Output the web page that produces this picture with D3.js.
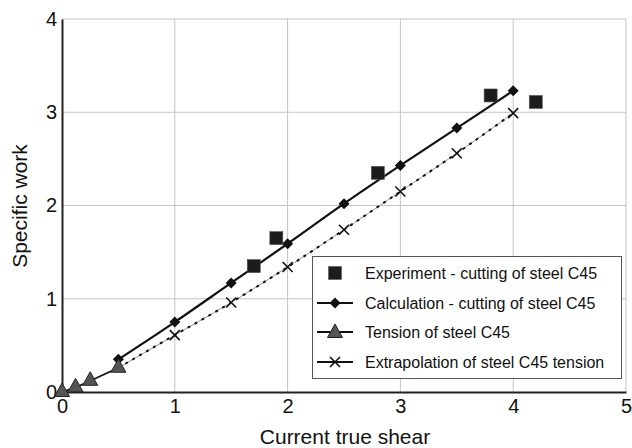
<!DOCTYPE html>
<html>
<head>
<meta charset="utf-8">
<script src="https://cdn.jsdelivr.net/npm/d3@7"></script>
<style>
  html, body { margin: 0; padding: 0; background: #fff; }
  svg { display: block; font-family: "Liberation Sans", Arial, sans-serif; }
</style>
</head>
<body>
<svg id="chart" width="632" height="448"></svg>
<script>
// Specific work vs. current true shear for steel C45
const xTicks = [0, 1, 2, 3, 4, 5];
const yTicks = [0, 1, 2, 3, 4];

const experimentX = [1.7, 1.9, 2.8, 3.8, 4.2];
const experimentY = [1.35, 1.65, 2.35, 3.18, 3.11];

const calculationX = [0.5, 1, 1.5, 2, 2.5, 3, 3.5, 4];
const calculationY = [0.35, 0.75, 1.17, 1.59, 2.02, 2.43, 2.83, 3.23];

const tensionX = [0, 0.12, 0.25, 0.5];
const tensionY = [0, 0.05, 0.12, 0.26];

const extrapolationX = [0.5, 1, 1.5, 2, 2.5, 3, 3.5, 4];
const extrapolationY = [0.26, 0.61, 0.96, 1.34, 1.74, 2.15, 2.56, 2.99];

const legendLabels = [
  "Experiment - cutting of steel C45",
  "Calculation - cutting of steel C45",
  "Tension of steel C45",
  "Extrapolation of steel C45 tension"
];

const zip = (xs, ys) => xs.map((x, i) => [x, ys[i]]);

const svg = d3.select("#chart");
const x = d3.scaleLinear().domain([0, 5]).range([62, 626]);
const y = d3.scaleLinear().domain([0, 4]).range([392, 19]);

// grid
const grid = svg.append("g").attr("stroke", "#c4c4c4").attr("stroke-width", 1);
grid.selectAll("line.v").data(xTicks.slice(1)).join("line")
  .attr("x1", d => x(d)).attr("x2", d => x(d))
  .attr("y1", y(0)).attr("y2", y(4));
grid.selectAll("line.h").data(yTicks.slice(1)).join("line")
  .attr("x1", x(0)).attr("x2", x(5))
  .attr("y1", d => y(d)).attr("y2", d => y(d));

// axes
const xAxis = svg.append("g").attr("transform", `translate(0,${y(0)})`)
  .call(d3.axisBottom(x).tickValues(xTicks).tickFormat(d3.format("d")).tickSize(0).tickPadding(7));
const yAxis = svg.append("g").attr("transform", `translate(${x(0)},0)`)
  .call(d3.axisLeft(y).tickValues(yTicks).tickFormat(d3.format("d")).tickSize(0).tickPadding(5));
[xAxis, yAxis].forEach(a => {
  a.select(".domain").attr("stroke", "#222").attr("stroke-width", 2);
  a.selectAll("text").attr("font-size", 20).attr("fill", "#111")
    .attr("font-family", "Liberation Sans, Arial, sans-serif");
});

// axis titles
svg.append("text").attr("x", 345).attr("y", 444)
  .attr("text-anchor", "middle").attr("font-size", 21).attr("fill", "#111")
  .text("Current true shear");
svg.append("text").attr("transform", `translate(27,206) rotate(-90)`)
  .attr("text-anchor", "middle").attr("font-size", 21).attr("fill", "#111")
  .text("Specific work");

// series lines
const line = d3.line().x(d => x(d[0])).y(d => y(d[1])).curve(d3.curveMonotoneX);
const extrapolation = zip(extrapolationX, extrapolationY);
svg.append("path").attr("d", line(extrapolation))
  .attr("fill", "none").attr("stroke", "#9a9a9a").attr("stroke-width", 1);
svg.append("path").attr("d", line(extrapolation))
  .attr("fill", "none").attr("stroke", "#111").attr("stroke-width", 2)
  .attr("stroke-dasharray", "3,5");
svg.append("path").attr("d", line(zip(tensionX, tensionY)))
  .attr("fill", "none").attr("stroke", "#111").attr("stroke-width", 1.8);
svg.append("path").attr("d", line(zip(calculationX, calculationY)))
  .attr("fill", "none").attr("stroke", "#111").attr("stroke-width", 2.2);

// markers
const markers = {
  square: g => g.append("rect").attr("x", -6.5).attr("y", -6.5).attr("width", 13).attr("height", 13)
    .attr("fill", "#1c1c1c").attr("stroke", "#555").attr("stroke-width", 0.6),
  diamond: g => g.append("path").attr("d", "M0,-5.5L5.5,0L0,5.5L-5.5,0Z").attr("fill", "#111"),
  triangle: g => g.append("path").attr("d", "M0,-9L7.5,4.5L-7.5,4.5Z")
    .attr("fill", "#555").attr("stroke", "#222").attr("stroke-width", 1),
  cross: g => g.append("path").attr("d", "M-5,-5L5,5M-5,5L5,-5")
    .attr("stroke", "#111").attr("stroke-width", 1.6).attr("fill", "none")
};

function drawMarkers(data, kind) {
  svg.append("g").selectAll("g").data(data).join("g")
    .attr("transform", d => `translate(${x(d[0])},${y(d[1])})`)
    .each(function () { markers[kind](d3.select(this)); });
}
drawMarkers(extrapolation.slice(1), "cross");
drawMarkers(zip(calculationX, calculationY), "diamond");
drawMarkers(zip(tensionX, tensionY), "triangle");
drawMarkers(zip(experimentX, experimentY), "square");

// legend
const legend = svg.append("g");
legend.append("rect").attr("x", 312.5).attr("y", 256.5).attr("width", 309).attr("height", 122)
  .attr("fill", "#fff").attr("stroke", "#555").attr("stroke-width", 1);
const kinds = ["square", "diamond", "triangle", "cross"];
const rowY = [273, 303, 332, 362];
legendLabels.forEach((label, i) => {
  const row = legend.append("g").attr("transform", `translate(335,${rowY[i]})`);
  if (i > 0) {
    row.append("line").attr("x1", -18).attr("x2", 18).attr("y1", 0).attr("y2", 0)
      .attr("stroke", "#111").attr("stroke-width", 1.8);
  }
  const m = row.append("g").attr("transform", i === 2 ? "translate(0,1)" : null);
  markers[kinds[i]](m);
  row.append("text").attr("x", 30).attr("y", 0).attr("dy", "0.35em")
    .attr("font-size", 16).attr("fill", "#111").text(label);
});
</script>
</body>
</html>
